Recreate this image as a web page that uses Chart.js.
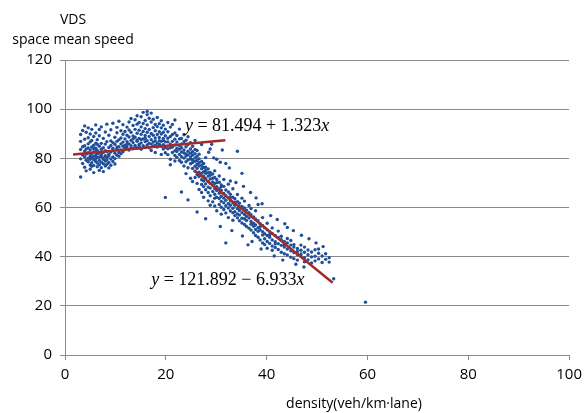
<!DOCTYPE html>
<html>
<head>
<meta charset="utf-8">
<script src="https://cdn.jsdelivr.net/npm/chart.js@4"></script>
<style>
  html, body { margin: 0; padding: 0; background: #fff; }
  #wrap { width: 588px; height: 413px; }
</style>
</head>
<body>
<div id="wrap"><canvas id="chart" width="588" height="413"></canvas></div>
<script>
// speed readings grouped by density (veh/km-lane)
const freeFlow = [
  [3.1, [83.6, 79.8, 86.9, 72.4, 89.7]],
  [3.5, [81.4, 77.9, 84.7, 91.3]],
  [3.9, [80.6, 82.9, 76.4, 87.8, 85.1, 93.2]],
  [4.2, [83.8, 79.2, 81.7, 90.6, 74.9]],
  [4.6, [82.3, 78.6, 85.9, 80.1, 88.4, 84.2, 92.4]],
  [5.0, [80.9, 77.3, 83.4, 79.6, 86.7, 82.1, 75.6, 89.9]],
  [5.3, [81.8, 84.6, 78.2, 80.4, 87.3, 91.8, 76.8]],
  [5.7, [79.4, 82.6, 85.3, 77.1, 83.9, 80.8, 88.9, 74.2]],
  [6.1, [81.2, 78.7, 84.1, 79.9, 86.2, 82.7, 90.3, 93.6]],
  [6.4, [80.3, 83.2, 76.6, 85.7, 78.1, 81.9, 87.6]],
  [6.8, [82.2, 79.1, 84.9, 77.4, 80.6, 89.2, 75.1, 91.7]],
  [7.2, [80.7, 83.7, 78.4, 86.1, 81.5, 76.2, 92.8]],
  [7.6, [79.6, 82.4, 84.3, 77.8, 80.2, 88.1, 74.6]],
  [8.0, [81.1, 78.9, 83.1, 85.8, 76.9, 90.7]],
  [8.3, [80.4, 82.8, 77.6, 79.3, 86.8, 93.9]],
  [8.7, [81.7, 84.4, 78.3, 76.1, 89.4, 80.9]],
  [9.1, [82.6, 79.7, 85.2, 77.2, 91.6, 87.1]],
  [9.5, [83.3, 80.6, 86.4, 78.7, 84.1, 94.3]],
  [9.9, [82.1, 85.7, 79.9, 88.6, 77.7]],
  [10.3, [83.8, 81.3, 86.9, 90.4, 84.6, 92.6]],
  [10.7, [84.7, 82.4, 87.6, 80.8, 95.1]],
  [11.1, [83.4, 85.9, 88.3, 81.9, 91.2]],
  [11.5, [84.9, 82.7, 86.6, 89.8, 93.7]],
  [11.9, [85.3, 83.6, 87.9, 84.2, 90.9]]
];

const plateau = [
  [12.3, [84.6, 86.8, 89.4, 92.7, 85.7]],
  [12.7, [85.9, 83.4, 88.7, 91.5, 94.8]],
  [13.1, [84.2, 87.3, 90.6, 85.1, 96.2]],
  [13.5, [86.4, 83.9, 89.1, 93.4, 87.9]],
  [13.9, [85.2, 88.6, 84.7, 91.8, 95.7]],
  [14.3, [86.9, 84.1, 90.2, 87.4, 93.9, 97.3]],
  [14.7, [85.6, 88.1, 91.4, 84.8, 94.6]],
  [15.1, [86.3, 83.7, 89.8, 92.8, 96.9, 87.7]],
  [15.5, [85.1, 87.9, 90.9, 94.2, 98.7]],
  [15.9, [86.8, 84.4, 89.3, 92.1, 95.4, 88.2]],
  [16.3, [85.4, 87.2, 90.6, 93.6, 97.8, 99.1]],
  [16.7, [86.1, 88.9, 84.3, 91.7, 96.3]],
  [17.1, [85.8, 87.6, 90.1, 94.8, 83.2, 98.4]],
  [17.5, [86.6, 89.4, 84.9, 92.5, 95.9]],
  [17.9, [85.3, 88.3, 91.2, 87.1, 93.8, 82.4]],
  [18.3, [86.2, 84.6, 89.7, 92.9, 96.6]],
  [18.7, [85.7, 88.5, 87.2, 90.8, 94.1]],
  [19.1, [84.9, 86.9, 89.9, 92.4, 81.6, 95.3]],
  [19.5, [85.5, 88.1, 83.8, 90.6, 93.5, 87.3]],
  [19.9, [84.4, 86.7, 89.2, 82.3, 91.9, 64.1]]
];

const transition = [
  [20.4, [86.7, 83.9, 90.8, 81.5, 94.6, 88.2]],
  [20.9, [84.3, 88.9, 79.6, 92.7, 85.8, 77.4]],
  [21.3, [86.9, 82.4, 89.7, 93.8, 84.6]],
  [21.8, [85.4, 81.2, 87.8, 90.3, 83.1, 95.6, 78.9]],
  [22.2, [84.1, 86.6, 80.4, 89.3, 82.8]],
  [22.7, [83.7, 87.9, 79.1, 91.9, 85.2, 81.6]],
  [23.1, [82.6, 85.9, 78.4, 88.1, 84.3, 66.3, 80.7]],
  [23.6, [83.4, 80.1, 86.8, 76.9, 82.2, 89.6]],
  [24.0, [81.8, 84.7, 78.6, 87.4, 73.8, 80.9]],
  [24.4, [82.9, 79.3, 85.6, 76.2, 63.1, 81.4, 88.8]],
  [24.9, [80.6, 83.8, 77.8, 86.4, 71.9, 79.7, 82.1]],
  [25.3, [79.4, 82.7, 75.9, 84.9, 78.3, 70.6, 81.3]],
  [25.8, [78.8, 81.9, 74.7, 76.8, 83.6, 72.2, 80.2, 87.3]],
  [26.2, [77.6, 80.8, 73.4, 58.2, 75.9, 79.1, 69.8, 83.2]],
  [26.6, [76.9, 79.8, 72.6, 74.4, 67.3, 78.2, 81.7]],
  [27.1, [75.8, 78.7, 71.3, 73.9, 69.4, 77.2, 66.1, 85.6]],
  [27.5, [74.6, 77.9, 70.8, 72.7, 64.2, 76.3, 68.5]],
  [27.9, [73.9, 76.4, 69.6, 71.8, 55.4, 75.1, 80.3, 67.2]],
  [28.4, [72.8, 75.7, 68.3, 70.6, 62.7, 74.2, 66.1]],
  [28.8, [71.6, 74.3, 67.9, 69.8, 64.8, 73.1, 83.8, 60.9]],
  [29.3, [70.4, 73.6, 66.5, 68.9, 62.3, 71.9]],
  [29.7, [69.8, 72.2, 65.4, 67.7, 74.9, 60.6, 63.8]],
  [30.1, [68.5, 71.4, 64.2, 66.9, 70.1, 58.7, 79.6]],
  [30.6, [67.6, 70.3, 63.7, 65.8, 61.2, 72.8]],
  [31.0, [66.9, 69.2, 62.5, 64.6, 68.4, 57.3, 60.1]],
  [31.5, [65.7, 68.6, 61.9, 63.8, 71.4, 59.2]],
  [31.9, [64.8, 67.1, 60.7, 62.9, 45.6, 77.9, 57.8]],
  [32.4, [63.9, 66.3, 59.8, 61.6, 69.5, 55.9]],
  [32.8, [62.7, 65.4, 58.6, 60.9, 64.1, 70.8]],
  [33.3, [61.8, 64.2, 57.9, 59.7, 67.6, 54.8]],
  [33.7, [60.9, 63.6, 56.7, 58.3, 62.2]],
  [34.2, [59.6, 62.4, 55.8, 57.4, 65.3, 82.9]],
  [34.6, [58.8, 61.7, 54.6, 56.9, 60.3]],
  [35.1, [57.9, 60.4, 53.7, 55.6, 63.8, 73.9]]
];

const congested = [
  [35.6, [57.2, 59.8, 53.1, 55.4, 62.6]],
  [36.0, [56.4, 58.9, 52.3, 54.7]],
  [36.5, [55.7, 60.8, 51.6, 57.9]],
  [36.9, [54.3, 57.1, 50.8, 53.2, 59.6]],
  [37.4, [53.6, 56.2, 49.7, 52.4]],
  [37.8, [52.9, 55.3, 48.6, 58.7, 51.1]],
  [38.3, [51.8, 54.6, 47.9, 50.3, 61.2]],
  [38.7, [50.9, 53.4, 46.8, 52.2]],
  [39.2, [50.2, 52.7, 45.6, 48.8, 55.9]],
  [39.6, [49.3, 51.8, 47.3, 44.9]],
  [40.1, [48.6, 50.9, 46.2, 53.6, 43.4]],
  [40.6, [47.9, 50.1, 45.4, 48.9]],
  [41.1, [46.8, 49.4, 44.3, 51.7, 42.6]],
  [41.7, [46.1, 48.6, 43.7, 45.2]],
  [42.3, [45.3, 47.8, 42.9, 50.4]],
  [42.9, [44.6, 46.9, 41.8, 48.3]],
  [43.5, [43.9, 46.2, 41.2, 44.8]],
  [44.1, [43.1, 45.6, 40.7, 51.9, 47.4]],
  [44.8, [42.4, 44.7, 39.8, 46.6]],
  [45.4, [41.7, 43.9, 44.9, 39.2]],
  [46.1, [40.9, 43.3, 42.1, 38.6]],
  [46.8, [40.3, 42.6, 44.7, 41.1]],
  [47.5, [39.6, 41.8, 43.9, 37.9]],
  [48.2, [40.8, 42.7, 38.7]],
  [48.9, [39.9, 41.9, 37.4]],
  [49.6, [40.2, 42.8, 38.3]],
  [50.3, [39.1, 41.4, 43.1]],
  [51.0, [40.3, 37.6]],
  [51.7, [38.9, 41.2]],
  [52.4, [37.8, 39.6]],
  [53.3, [31]],
  [59.6, [21.5]]
];

// looser readings around the falling branch
const strays = [
  [28.5, [82.5]], [29.1, [85.7]], [29.5, [80.2]], [30.8, [78.4, 52.3]],
  [31.2, [83.4]], [32.6, [76.1]], [33.1, [50.6]], [33.9, [70.2]],
  [35.2, [48.4]], [35.4, [68.6]], [36.3, [44.8]], [36.8, [66.1]],
  [37.1, [46.2]], [37.9, [63.9]], [38.9, [43.1]], [39.1, [61.5]],
  [40.8, [56.7]], [41.5, [40.3]], [42.1, [55.1]], [43.2, [38.6]],
  [43.6, [53.4]], [45.3, [50.6]], [45.8, [36.9]], [46.9, [48.7]],
  [47.4, [35.8]], [48.4, [47.3]], [49.8, [45.6]], [51.2, [44.1]]
];

// fitted lines as drawn (density ends, speed ends)
const fitFreeX = [1.6, 31.8];
const fitFreeY = [81.6, 87.4];
const fitCongX = [25.6, 53.1];
const fitCongY = [75.2, 29.4];

const xTicks = [0, 20, 40, 60, 80, 100];
const yTicks = [0, 20, 40, 60, 80, 100, 120];

const eqFree = ['y', ' = 81.494 + 1.323', 'x'];
const eqCong = ['y', ' = 121.892 \u2212 6.933', 'x'];

function toPoints(groups) {
  const pts = [];
  groups.forEach(g => g[1].forEach(s => pts.push({ x: g[0], y: s })));
  return pts;
}

const scatterPts = [freeFlow, plateau, transition, congested, strays].map(toPoints).flat();

const textPlugin = {
  id: 'texts',
  afterDatasetsDraw(chart) {
    const ctx = chart.ctx;
    const xs = chart.scales.x, ys = chart.scales.y;
    ctx.save();
    ctx.fillStyle = '#000';
    ctx.font = '14px "Open Sans"';
    ctx.textAlign = 'center';
    ctx.textBaseline = 'alphabetic';
    ctx.fillText('VDS', 73, 24);
    ctx.fillText('space mean speed', 73, 44);
    ctx.fillText('density(veh/km\u00b7lane)', 354, 408);

    function eq(parts, dx, dy) {
      let px = xs.getPixelForValue(dx);
      const py = ys.getPixelForValue(dy);
      ctx.textAlign = 'left';
      parts.forEach((p, i) => {
        ctx.font = (i === 1 ? '' : 'italic ') + '18px "Liberation Serif"';
        ctx.fillText(p, px, py);
        px += ctx.measureText(p).width;
      });
    }
    eq(eqFree, 23.8, 91.2);
    eq(eqCong, 17.1, 28.3);
    ctx.restore();
  }
};

new Chart(document.getElementById('chart').getContext('2d'), {
  type: 'scatter',
  data: {
    datasets: [
      {
        label: 'obs',
        data: scatterPts,
        backgroundColor: '#1f4f9a',
        borderColor: '#1f4f9a',
        pointRadius: 1.7,
        pointBorderWidth: 0,
        order: 2
      },
      {
        type: 'line',
        label: 'fit1',
        data: fitFreeX.map((x, i) => ({ x: x, y: fitFreeY[i] })),
        borderColor: '#a12a2a',
        borderWidth: 2.5,
        pointRadius: 0,
        order: 1
      },
      {
        type: 'line',
        label: 'fit2',
        data: fitCongX.map((x, i) => ({ x: x, y: fitCongY[i] })),
        borderColor: '#a12a2a',
        borderWidth: 2.5,
        pointRadius: 0,
        order: 1
      }
    ]
  },
  options: {
    responsive: false,
    animation: false,
    layout: { padding: { top: 60, right: 14, left: 0, bottom: 0 } },
    plugins: { legend: { display: false }, tooltip: { enabled: false } },
    scales: {
      x: {
        type: 'linear',
        min: 0, max: 100,
        afterBuildTicks: s => { s.ticks = xTicks.map(v => ({ value: v })); },
        afterFit: s => { s.height = 58; },
        grid: { drawOnChartArea: false, drawTicks: true, tickLength: 5, color: '#8a8a8a' },
        border: { color: '#8a8a8a' },
        ticks: { color: '#000', padding: 6, font: { family: 'Open Sans', size: 15 } }
      },
      y: {
        min: 0, max: 120,
        afterBuildTicks: s => { s.ticks = yTicks.map(v => ({ value: v })); },
        afterFit: s => { s.width = 65; },
        grid: { color: '#8a8a8a', tickLength: 5 },
        border: { color: '#8a8a8a' },
        ticks: { color: '#000', padding: 8, font: { family: 'Open Sans', size: 15 } }
      }
    }
  },
  plugins: [textPlugin]
});
</script>
</body>
</html>
